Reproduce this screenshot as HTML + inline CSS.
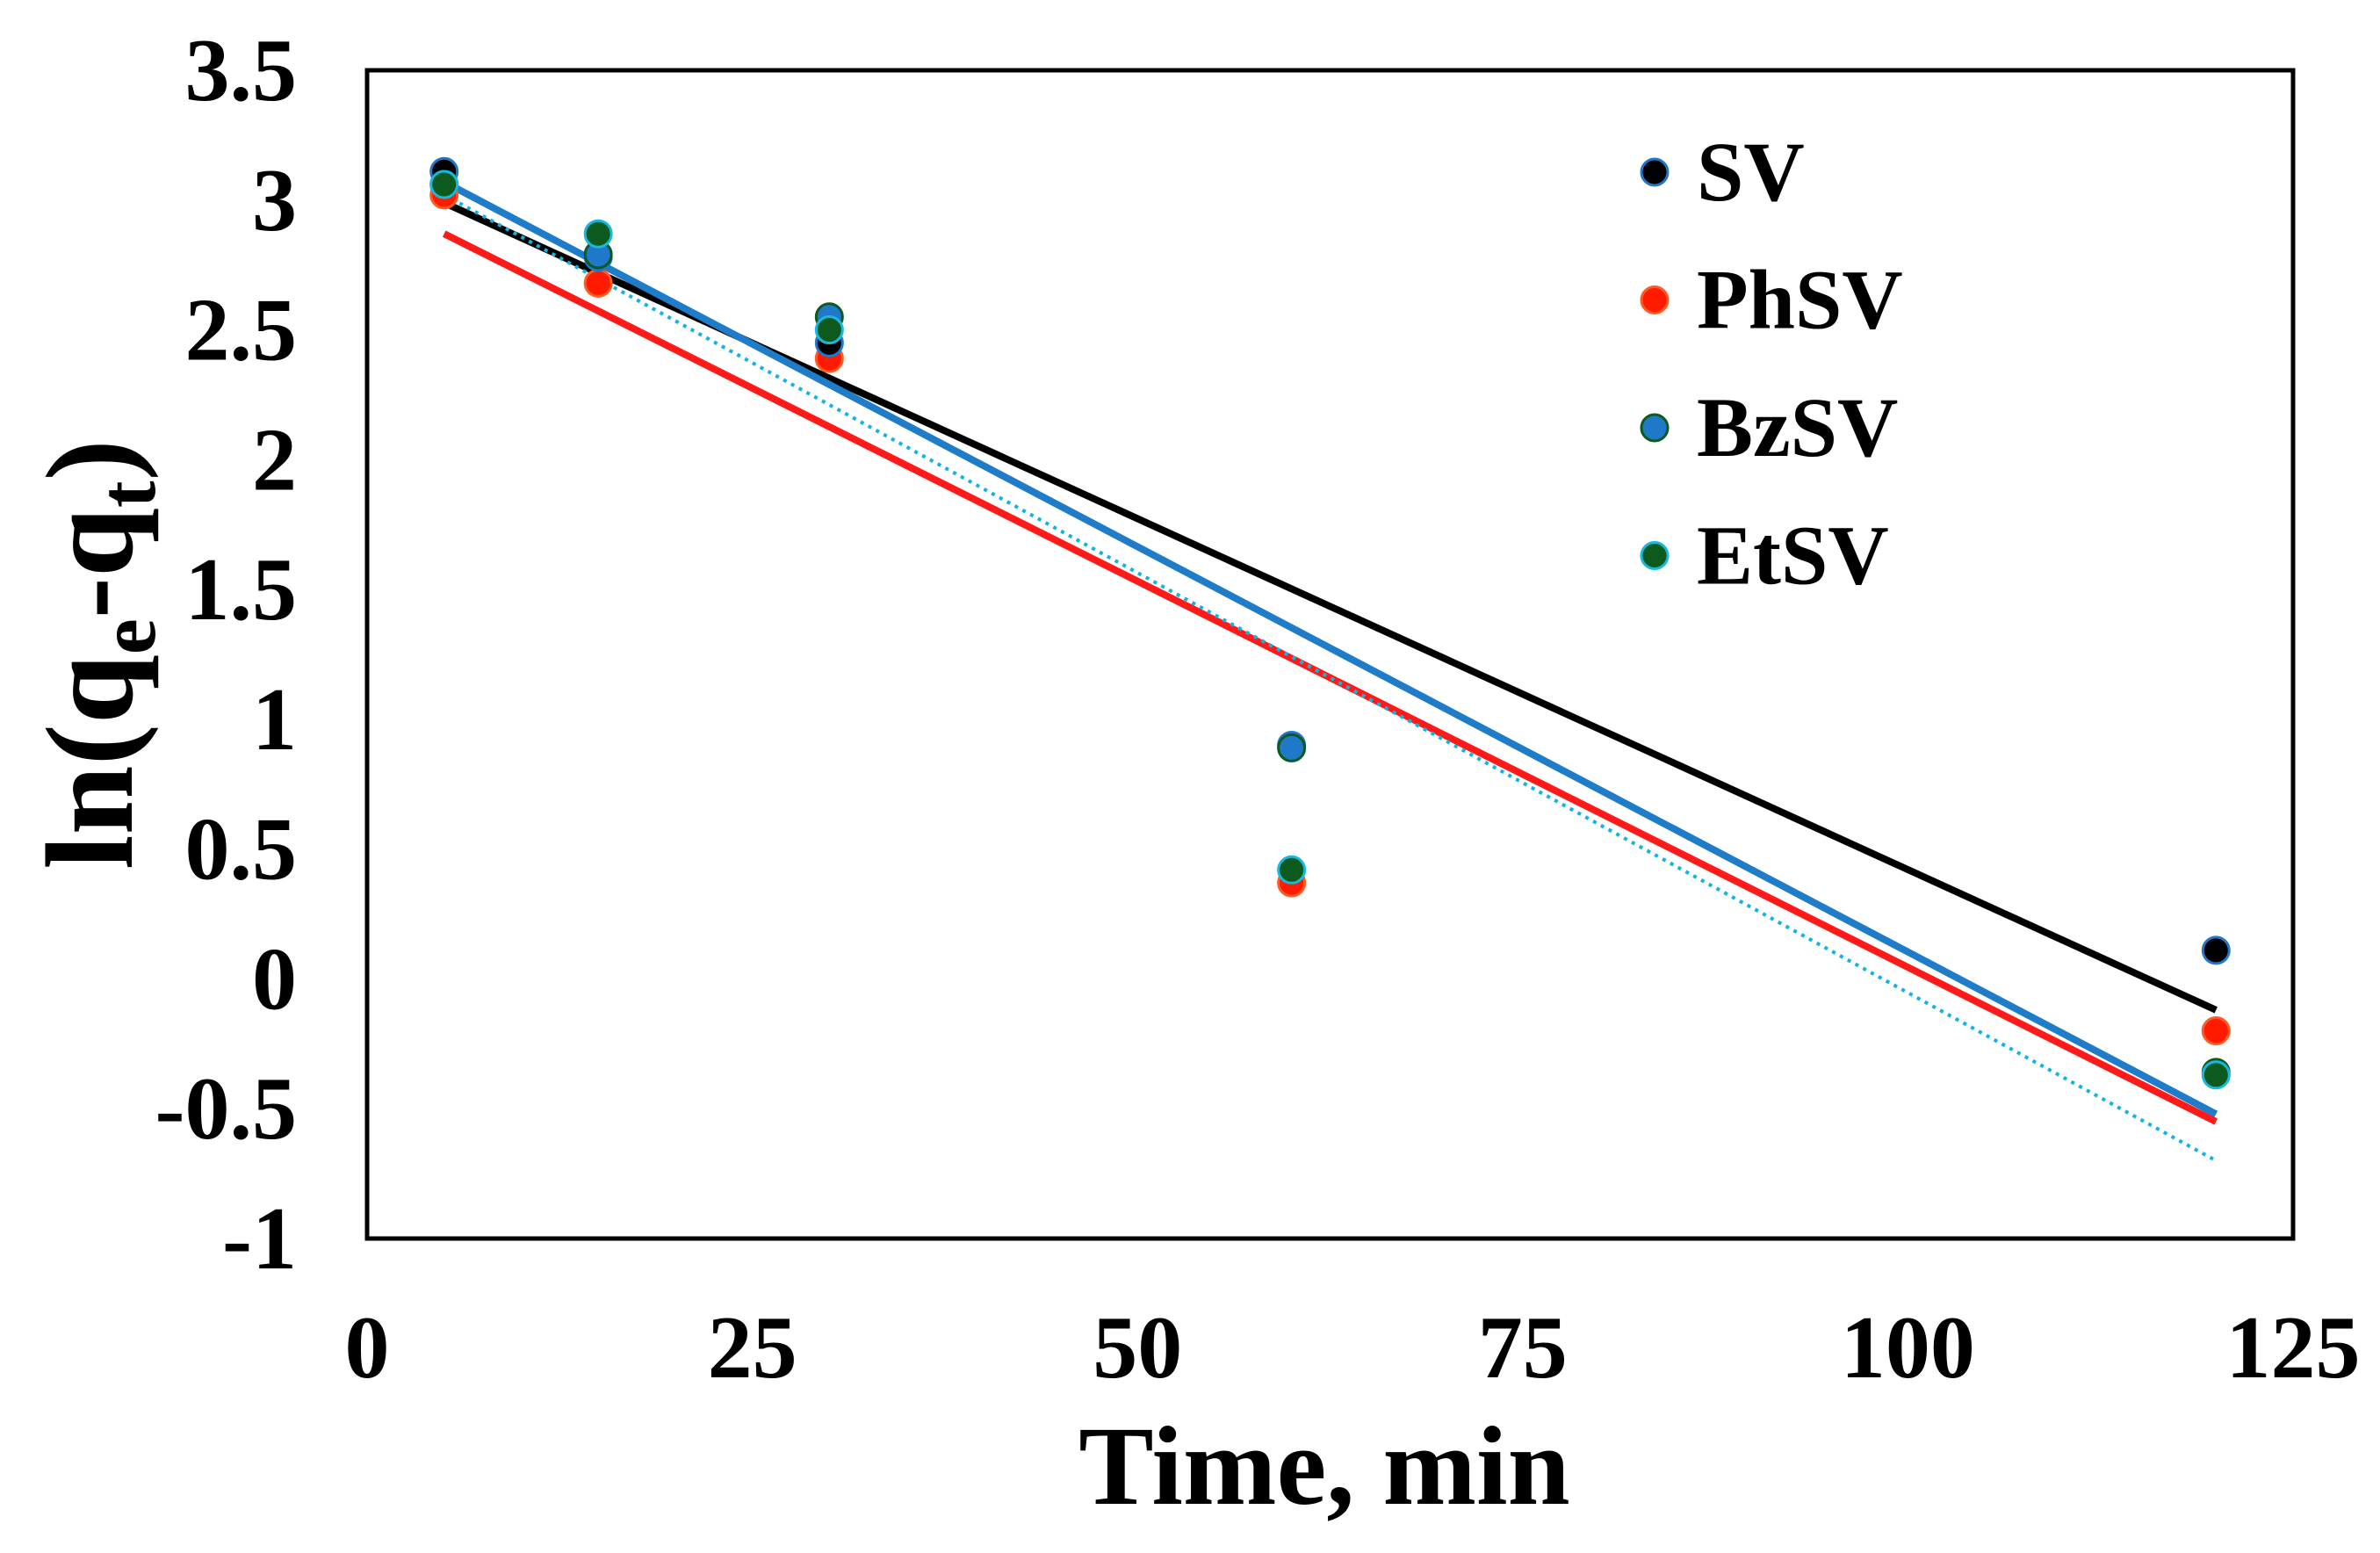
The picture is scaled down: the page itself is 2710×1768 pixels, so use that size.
<!DOCTYPE html>
<html><head><meta charset="utf-8"><style>
html,body{margin:0;padding:0;background:#fff;}
svg{display:block;font-family:"Liberation Serif",serif;font-weight:bold;}
</style></head><body>
<svg id="chart" width="2710" height="1768" viewBox="0 0 2710 1768">
<rect x="418" y="80" width="2193" height="1330" fill="#fff" stroke="#000" stroke-width="5"/>
<g id="lines"></g><g id="pts"></g><g id="yt"></g><g id="xt"></g><g id="leg"></g>
<text x="1508" y="1712" font-size="128" text-anchor="middle">Time, min</text>
<text transform="translate(150,745) rotate(-90)" font-size="142" text-anchor="middle">ln(q<tspan font-size="92" dy="26">e</tspan><tspan dy="-26">-q</tspan><tspan font-size="92" dy="26">t</tspan><tspan dy="-26">)</tspan></text>
</svg>
<script>
const xs = [5, 15, 30, 60, 120];
const seriesNames = ["SV", "PhSV", "BzSV", "EtSV"];
const svVals = [3.11, 2.78, 2.45, 0.9, 0.11];
const phVals = [3.02, 2.68, 2.39, 0.37, -0.2];
const bzVals = [3.06, 2.79, 2.55, 0.89, -0.36];
const etVals = [3.06, 2.87, 2.5, 0.42, -0.37];
const fitSlopes = [-0.02704, -0.02974, -0.03122, -0.03235];
const fitIntercepts = [3.125, 3.019, 3.226, 3.182];
const yTicks = [3.5, 3, 2.5, 2, 1.5, 1, 0.5, 0, -0.5, -1];
const xTicks = [0, 25, 50, 75, 100, 125];
const fills = ["#000", "#ff1a00", "#1f78c8", "#0d5a1e"];
const edges = ["#1f78c8", "#ff5a20", "#0d5a1e", "#18b8e0"];
const lineColors = ["#000", "#ff1a1a", "#1f7cc8", "#10b4e0"];
const NS = "http://www.w3.org/2000/svg";
const X = v => 418 + (v / 125) * 2193;
const Y = v => 80 + (3.5 - v) / 4.5 * 1330;
function mk(tag, attrs, parent) { const e = document.createElementNS(NS, tag); for (const k in attrs) e.setAttribute(k, attrs[k]); document.getElementById(parent).appendChild(e); return e; }
yTicks.forEach(t => {
  const e = mk("text", {x: 338, y: Y(t) + 34, "font-size": 102, "text-anchor": "end"}, "yt");
  e.textContent = String(t);
  
  
});
xTicks.forEach(t => {
  const e = mk("text", {x: X(t), y: 1568, "font-size": 102, "text-anchor": "middle"}, "xt");
  e.textContent = String(t);
  
  
});
fitSlopes.forEach((m, i) => {
  const b = fitIntercepts[i];
  const attrs = {x1: X(5), y1: Y(m * 5 + b), x2: X(120), y2: Y(m * 120 + b), stroke: lineColors[i], "stroke-width": i === 3 ? 4 : 8};
  if (i === 3) attrs["stroke-dasharray"] = "4 6";
  const l = mk("line", attrs, "lines");
  
  
});
const order = [1, 0, 2, 3];
const all = [svVals, phVals, bzVals, etVals];
order.forEach(i => {
  all[i].forEach((v, j) => {
    const c = mk("circle", {cx: X(xs[j]), cy: Y(v), r: 15, fill: fills[i], stroke: edges[i], "stroke-width": 3}, "pts");
    
    
  });
});
seriesNames.forEach((n, i) => {
  const y = 196 + i * 145.5;
  const c = mk("circle", {cx: 1884, cy: y, r: 15, fill: fills[i], stroke: edges[i], "stroke-width": 3}, "leg");
  
  
  const t = mk("text", {x: 1932, y: y + 32, "font-size": 96}, "leg");
  t.textContent = n;
  
  
});
</script>
</body></html>
